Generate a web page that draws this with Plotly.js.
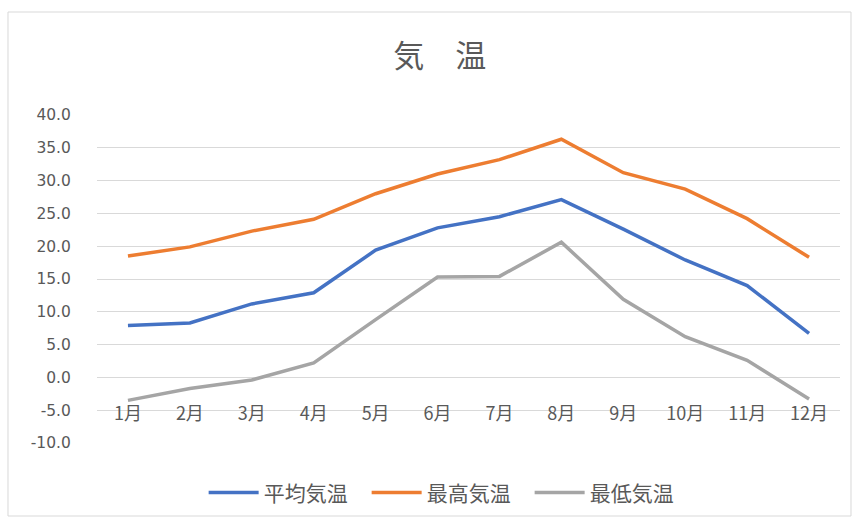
<!DOCTYPE html>
<html>
<head>
<meta charset="utf-8">
<script src="https://cdn.plot.ly/plotly-3.0.1.min.js"></script>
<style>html,body{margin:0;padding:0;background:#fff;}#chart{width:857px;height:518px;}</style>
</head>
<body>
<div id="chart"></div>
<script>
var months = ["1月","2月","3月","4月","5月","6月","7月","8月","9月","10月","11月","12月"];
var avgTemp = [7.9, 8.3, 11.2, 12.9, 19.4, 22.8, 24.5, 27.1, 22.6, 17.9, 14.0, 6.7];
var maxTemp = [18.5, 19.9, 22.3, 24.1, 28.0, 31.0, 33.2, 36.3, 31.2, 28.7, 24.2, 18.3];
var minTemp = [-3.5, -1.7, -0.4, 2.2, 8.8, 15.3, 15.4, 20.6, 11.9, 6.2, 2.6, -3.3];
var seriesNames = ["平均気温", "最高気温", "最低気温"];
var yTickVals = [40, 35, 30, 25, 20, 15, 10, 5, 0, -5, -10];
var yTickText = ["40.0","35.0","30.0","25.0","20.0","15.0","10.0","5.0","0.0","-5.0","-10.0"];

var FONT = '"Noto Sans CJK JP", "Noto Sans", sans-serif';
var colors = ["#4472C4", "#ED7D31", "#A5A5A5"];
var data = [avgTemp, maxTemp, minTemp].map(function (vals, i) {
  return {
    type: "scatter", mode: "lines", x: months, y: vals, name: seriesNames[i],
    line: {color: colors[i], width: 3.5}, cliponaxis: false
  };
});

var layout = {
  width: 857, height: 518,
  margin: {l: 97, r: 17, t: 115, b: 75, autoexpand: false},
  paper_bgcolor: "#fff", plot_bgcolor: "#fff",
  font: {family: FONT, color: "#595959", size: 15},
  title: {text: "気　温", font: {family: FONT, size: 31, color: "#595959"},
          x: 0.513, xref: "container", xanchor: "center", y: 0.892, yref: "container", yanchor: "middle"},
  xaxis: {
    type: "category", anchor: "free", position: 0.128,
    showgrid: false, zeroline: false, showline: false, ticks: "",
    tickfont: {family: FONT, size: 18, color: "#595959"}, range: [-0.5, 11.5]
  },
  yaxis: {
    range: [-10, 40], tickvals: yTickVals, ticktext: yTickText,
    showgrid: true, gridcolor: "#d9d9d9", gridwidth: 1, zeroline: false, showline: false,
    ticks: "outside", ticklen: 22, tickcolor: "rgba(0,0,0,0)",
    tickfont: {family: '"DejaVu Sans", sans-serif', size: 15.5, color: "#595959"}
  },
  legend: {orientation: "h", x: 0.4726, xanchor: "center", y: -0.152, yanchor: "middle",
           itemwidth: 50, entrywidth: 98, entrywidthmode: "pixels",
           font: {family: FONT, size: 21, color: "#595959"}, traceorder: "normal"},
  shapes: [{type: "rect", xref: "paper", yref: "paper", x0: -0.1198, x1: 1.0148, y0: -0.2226, y1: 1.314,
            line: {color: "#d9d9d9", width: 1}, fillcolor: "rgba(0,0,0,0)", layer: "below"}],
  showlegend: true
};

Plotly.newPlot("chart", data, layout, {displayModeBar: false, staticPlot: true});
</script>
</body>
</html>
